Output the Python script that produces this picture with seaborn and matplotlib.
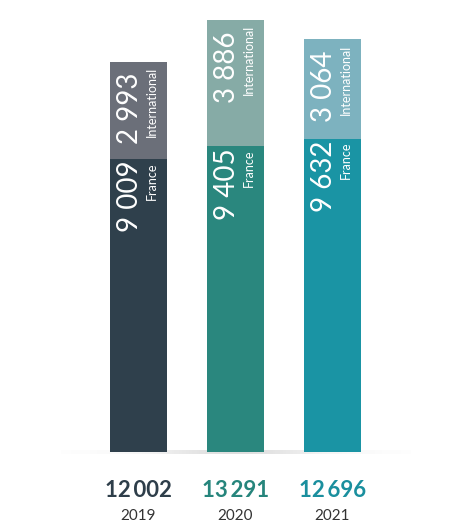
import numpy as np
import pandas as pd
import matplotlib
matplotlib.use("Agg")
import matplotlib.pyplot as plt
import seaborn as sns

# Data
years = ["2019", "2020", "2021"]
france = [9009, 9405, 9632]
international = [2993, 3886, 3064]
totals = [12002, 13291, 12696]

france_colors = ["#2f404c", "#2a877e", "#1a94a4"]
intl_colors = ["#6b6f79", "#86aba6", "#7db2bf"]
total_colors = ["#2e3e4a", "#26857c", "#1a8f9e"]

df = pd.DataFrame({"year": years, "france": france,
                   "international": international, "total": totals})

sns.set_style("white")
plt.rcParams["font.family"] = ["Lato", "DejaVu Sans"]

fig = plt.figure(figsize=(4.54, 5.23), dpi=100)
ax = fig.add_axes([0, 0, 1, 1])

W = 0.59
# full bar (international colour) then France part on top of it
sns.barplot(data=df, x="year", y="total", hue="year", palette=intl_colors,
            width=W, legend=False, ax=ax, saturation=1, linewidth=0)
sns.barplot(data=df, x="year", y="france", hue="year", palette=france_colors,
            width=W, legend=False, ax=ax, saturation=1, linewidth=0)

ax.set_xlim(-1.428, 3.253)
ax.set_ylim(-2200, 13900)
ax.axis("off")

# soft floor shadow
grad = np.exp(-((np.linspace(-1, 1, 300)) ** 2) * 3)[None, :]
ax.imshow(grad, extent=(-0.8, 2.8, -80, 30), aspect="auto", cmap="Greys",
          vmin=0, vmax=3.5, zorder=0.5, alpha=0.7)

def fmt(v, sep=" "):
    return f"{v:,}".replace(",", sep)

for i in range(len(years)):
    left = i - W / 2
    # France segment
    ax.text(left + 0.07, france[i] - 60, fmt(france[i]), rotation=90,
            ha="left", va="top", color="white", fontsize=20, zorder=5)
    ax.text(left + 0.37, france[i] - 100, "France", rotation=90,
            ha="left", va="top", color="white", fontsize=9, zorder=5)
    # International segment
    ax.text(left + 0.07, totals[i] - 350, fmt(international[i]), rotation=90,
            ha="left", va="top", color="white", fontsize=20, zorder=5)
    ax.text(left + 0.37, totals[i] - 160, "International", rotation=90,
            ha="left", va="top", color="white", fontsize=9, zorder=5)
    # totals and years below
    ax.text(i, -1210, fmt(totals[i], "\u2009"), ha="center", va="center",
            color=total_colors[i], fontsize=16, fontweight="bold")
    ax.text(i, -1990, years[i], ha="center", va="center",
            color="#333333", fontsize=11)

fig.savefig("out.png", dpi=100)
